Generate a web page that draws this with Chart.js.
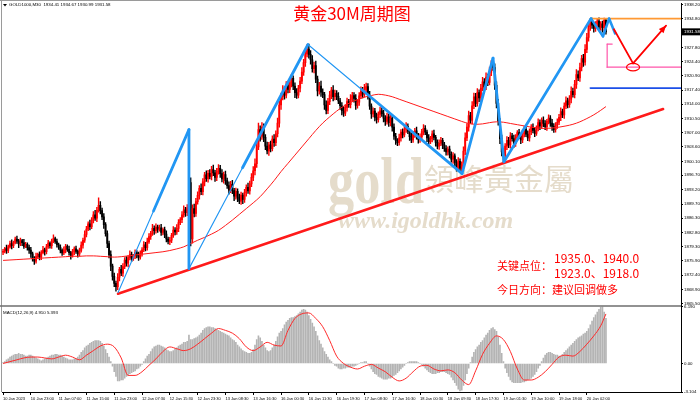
<!DOCTYPE html>
<html>
<head>
<meta charset="utf-8">
<script src="https://cdn.jsdelivr.net/npm/chart.js@4.4.0/dist/chart.umd.min.js"></script>
<style>
html,body{margin:0;padding:0;background:#fff;overflow:hidden}
#wrap{width:700px;height:403px;position:relative}
</style>
</head>
<body>
<div id="wrap"><canvas id="c" width="700" height="403"></canvas></div>
<script>
// GOLD 30M bars, 10 Jan - 20 Jan 2023 (one row = 16 bars = one x label step)
const firstOpen = 1878.0;
const closes = [
1878.2,1878.9,1878.4,1879.3,1880.1,1879.6,1880.4,1881.2,1880.7,1880.0,1880.8,1880.3,1879.4,1879.9,1879.1,1878.5,
1877.6,1876.4,1875.8,1876.9,1877.5,1876.8,1877.9,1878.6,1878.1,1879.3,1880.2,1879.6,1880.7,1881.3,1880.6,1879.8,
1879.2,1878.5,1877.8,1878.6,1879.4,1878.7,1877.9,1877.2,1878.1,1878.8,1878.2,1877.6,1878.4,1879.7,1880.9,1882.3,
1883.6,1884.9,1884.2,1885.8,1887.1,1886.3,1888.2,1889.4,1888.1,1886.6,1884.7,1882.5,1880.1,1877.4,1874.6,1872.1,
1870.4,1869.6,1871.9,1873.8,1872.9,1874.5,1876.1,1875.3,1876.7,1877.4,1876.5,1877.1,1877.9,1877.2,1876.8,1877.7,
1878.6,1879.8,1879.1,1880.5,1881.8,1882.6,1883.8,1883.2,1884.1,1883.6,1883.9,1882.8,1883.5,1882.4,1881.2,1880.6,
1880.9,1882.1,1883.4,1882.9,1883.8,1885.2,1885.9,1887.1,1888.3,1887.6,1888.8,1894.9,1881.2,1888.6,1887.4,1890.3,
1891.8,1893.5,1892.7,1895.1,1896.8,1895.9,1897.2,1896.4,1898.1,1897.3,1896.2,1897.6,1898.4,1897.1,1895.8,1896.9,
1895.4,1894.2,1893.1,1894.5,1893.0,1891.6,1892.8,1891.2,1890.4,1891.9,1890.8,1892.5,1893.8,1892.9,1894.6,1896.2,
1897.8,1899.5,1903.6,1907.8,1906.2,1908.4,1905.9,1903.8,1902.6,1904.1,1903.2,1905.5,1904.6,1906.8,1909.4,1913.8,
1915.8,1917.4,1916.2,1918.5,1917.6,1919.2,1920.3,1918.4,1916.8,1916.2,1917.9,1919.6,1921.8,1924.1,1926.2,1927.4,
1926.1,1924.8,1922.6,1923.4,1920.1,1917.2,1918.4,1916.9,1916.3,1913.8,1912.5,1914.6,1916.2,1917.4,1915.8,1916.6,
1915.9,1914.8,1913.6,1912.4,1911.8,1913.2,1914.6,1913.9,1915.2,1916.1,1915.4,1913.7,1914.5,1916.0,1917.2,1916.4,
1917.6,1918.3,1916.2,1913.5,1911.6,1912.3,1910.8,1910.2,1911.5,1912.4,1911.7,1910.6,1909.8,1910.9,1909.5,1910.6,
1908.4,1906.2,1905.1,1904.6,1905.8,1907.2,1906.5,1907.9,1908.6,1907.4,1906.1,1905.3,1906.7,1907.5,1906.2,1905.4,
1906.0,1907.3,1908.1,1907.2,1905.8,1904.9,1905.6,1906.8,1905.9,1904.7,1903.8,1904.5,1905.2,1904.1,1903.2,1902.4,
1903.1,1901.8,1900.6,1901.4,1899.8,1898.6,1900.1,1898.4,1899.2,1902.6,1905.8,1908.4,1911.2,1910.1,1913.6,1915.8,
1914.2,1916.8,1915.5,1917.9,1919.4,1918.2,1920.6,1919.3,1921.8,1923.6,1922.9,1918.6,1914.2,1909.8,1905.6,1902.4,
1901.6,1903.8,1905.2,1904.1,1906.3,1905.6,1904.4,1905.9,1907.1,1906.2,1905.3,1906.8,1907.9,1906.7,1905.8,1907.3,
1908.4,1907.6,1906.9,1908.2,1909.5,1908.7,1910.1,1909.3,1908.5,1909.8,1910.6,1909.4,1908.6,1907.8,1908.9,1909.6,
1910.8,1912.2,1911.4,1913.5,1914.8,1913.9,1915.2,1917.1,1916.3,1918.8,1921.2,1920.4,1922.9,1925.1,1924.2,1927.3,
1930.2,1932.9,1934.1,1933.2,1932.4,1933.6,1934.2,1932.8,1933.5,1932.6,1934.41,1931.58
];
// wick length above the body top / below the body bottom
const hiExt = [
0.5,0.3,0.8,0.4,0.6,0.9,0.3,0.5,0.7,0.4,0.6,0.3,0.8,0.5,0.4,0.6,
0.7,0.4,0.5,0.9,0.3,0.6,0.5,0.8,0.4,0.6,0.7,0.3,0.5,0.9,0.4,0.6,
0.4,0.6,0.3,0.7,0.5,0.4,0.8,0.3,0.6,0.5,0.7,0.4,0.6,0.8,0.5,0.9,
0.7,0.5,0.9,0.6,0.8,1.1,0.7,1.8,0.9,0.6,0.8,0.5,0.7,0.6,0.9,0.5,
0.8,0.6,0.9,0.5,1.0,0.7,0.6,0.8,0.5,0.9,0.6,0.4,0.7,0.5,0.8,0.6,
0.5,0.8,0.6,0.9,0.7,0.5,1.0,0.6,0.8,0.5,0.7,0.9,0.4,0.6,0.8,0.5,
0.7,0.5,0.8,0.6,0.9,0.7,0.5,0.8,1.0,0.6,0.8,2.6,1.2,0.9,1.1,0.8,
0.9,0.7,1.1,0.8,0.6,1.0,0.7,0.9,0.8,1.1,0.6,0.8,0.9,0.7,1.0,0.6,
0.8,0.6,0.9,0.7,1.0,0.5,0.8,0.6,0.9,0.7,0.5,0.8,0.6,1.0,0.7,0.9,
1.0,1.2,1.4,1.6,0.9,1.1,0.8,0.7,1.0,0.6,0.9,0.8,1.1,0.7,1.2,1.0,
0.9,1.1,0.8,1.0,0.7,1.2,0.9,0.6,0.8,1.0,0.7,0.9,1.1,0.8,1.0,1.1,
1.2,0.9,1.0,0.8,1.1,0.7,0.9,1.2,0.8,0.6,1.0,0.8,0.9,0.7,1.1,0.8,
0.7,0.9,0.6,0.8,1.0,0.7,0.9,0.6,1.1,0.8,0.7,0.9,0.6,0.8,1.0,0.9,
1.2,0.8,0.7,0.9,0.6,0.8,0.7,1.0,0.6,0.9,0.7,0.8,0.6,0.9,0.7,0.8,
0.6,0.8,0.7,0.5,0.9,0.6,0.8,0.7,0.9,0.6,0.5,0.8,0.7,0.6,0.9,0.7,
0.8,0.6,0.9,0.7,0.5,0.8,0.6,0.7,0.9,0.5,0.6,0.8,0.7,0.5,0.6,0.7,
0.5,0.7,0.6,0.8,0.5,0.7,0.9,0.6,0.8,1.0,1.2,0.9,1.1,0.8,1.0,0.9,
0.8,1.0,0.7,0.9,1.1,0.8,1.0,0.7,1.2,1.0,1.5,0.9,0.8,1.0,0.7,0.9,
0.8,0.6,0.9,0.7,0.8,0.6,0.9,0.7,0.5,0.8,0.6,0.9,0.7,0.6,0.8,0.7,
0.6,0.8,0.7,0.5,0.9,0.7,0.6,0.8,0.7,0.5,0.8,0.6,0.9,0.7,0.6,0.8,
0.7,0.9,0.6,0.8,1.0,0.7,0.9,1.1,0.8,1.0,1.2,0.9,1.1,0.8,1.0,1.2,
1.0,0.9,0.6,0.8,0.7,0.5,0.4,0.8,0.6,0.7,0.5,0.26
];
const loExt = [
0.6,0.4,0.7,0.5,0.3,0.8,0.5,0.4,0.6,0.9,0.4,0.7,0.5,0.3,0.6,0.8,
0.9,0.6,0.8,0.5,0.4,0.7,0.6,0.3,0.8,0.5,0.4,0.6,0.7,0.4,0.5,0.6,
0.5,0.7,0.6,0.4,0.8,0.5,0.6,0.9,0.4,0.7,0.5,0.8,0.6,0.4,0.7,0.5,
0.6,0.4,0.8,0.5,0.7,0.6,0.9,0.5,0.8,0.7,0.9,0.6,1.0,0.8,1.1,0.9,
0.8,1.1,0.7,0.9,0.6,0.8,0.5,0.7,0.9,0.6,0.8,0.5,0.7,0.6,0.8,0.5,
0.7,0.5,0.8,0.6,0.4,0.7,0.5,0.9,0.6,0.8,0.5,0.7,0.6,0.9,0.7,0.6,
0.8,0.6,0.5,0.7,0.6,0.8,0.5,0.7,0.6,0.9,0.7,0.8,1.7,1.0,0.8,0.7,
0.6,0.9,0.7,0.8,1.0,0.7,0.9,0.6,0.8,0.7,1.0,0.8,0.6,0.9,0.7,1.0,
0.9,0.7,1.0,0.6,0.8,1.1,0.7,0.9,0.6,0.8,1.0,0.7,0.9,0.6,0.8,0.7,
0.8,1.0,0.9,0.7,1.2,0.8,1.0,0.9,0.7,1.1,0.8,0.6,0.9,0.7,0.8,1.0,
1.1,0.8,1.0,0.7,0.9,0.8,1.0,0.9,1.2,0.8,0.7,0.9,0.6,0.8,0.9,0.7,
0.9,1.1,0.8,1.0,0.9,1.2,0.8,1.0,0.7,1.1,0.9,0.8,0.7,0.9,1.0,0.8,
0.8,0.7,0.9,1.0,0.8,0.6,0.9,0.7,0.8,0.6,0.9,1.0,0.7,0.8,0.6,0.9,
0.7,0.9,1.0,0.8,1.1,0.7,0.9,0.8,0.6,0.8,0.7,0.9,1.0,0.7,0.9,0.8,
1.0,0.8,0.9,0.7,0.6,0.8,0.7,0.5,0.8,0.6,0.9,0.7,0.6,0.8,0.7,0.9,
0.7,0.5,0.8,0.6,0.9,0.7,0.5,0.8,0.6,0.9,0.7,0.8,0.6,0.9,0.7,0.8,
0.8,0.9,0.7,1.0,0.8,0.9,0.7,0.6,1.2,0.8,0.9,0.7,1.0,0.8,0.9,0.7,
0.8,0.7,0.9,0.8,0.6,0.9,0.7,0.8,0.6,0.9,0.7,1.0,1.1,0.9,1.2,1.0,
1.6,0.8,0.9,0.7,0.8,0.6,0.9,0.7,0.8,0.6,0.9,0.7,0.8,0.6,0.7,0.8,
0.7,0.6,0.8,0.5,0.7,0.9,0.6,0.8,0.7,0.9,0.6,0.8,1.0,0.7,0.6,0.8,
0.6,0.8,0.7,0.9,0.6,0.8,0.7,0.9,0.6,0.8,1.0,0.7,0.9,0.8,1.0,0.7,
0.8,0.9,1.0,0.8,0.9,0.7,1.0,0.8,0.9,1.1,0.8,0.59
];
// red moving average, one reading every 4 bars (last one = last bar)
const maValues = [
1876.0,1876.1,1876.2,1876.3,1876.4,1876.5,1876.6,1876.7,1876.8,1876.9,
1877.0,1877.0,1877.1,1877.1,1877.0,1876.9,1876.8,1876.9,1877.1,1877.3,
1877.5,1877.7,1877.9,1878.1,1878.4,1878.8,1879.3,1880.1,1880.9,1881.6,
1882.4,1883.3,1884.5,1885.8,1887.2,1888.6,1890.0,1891.5,1893.4,1895.4,
1897.6,1899.6,1901.6,1903.6,1905.6,1907.6,1909.4,1910.9,1912.3,1913.5,
1914.4,1915.1,1915.7,1916.1,1916.4,1916.2,1915.8,1915.2,1914.6,1914.0,
1913.4,1912.8,1912.2,1911.6,1911.0,1910.4,1909.8,1909.3,1909.1,1909.2,
1909.5,1909.7,1909.6,1909.3,1909.0,1908.7,1908.4,1908.2,1908.1,1908.2,
1908.4,1908.7,1909.1,1909.7,1910.5,1911.4,1912.5,1913.4
];
// MACD(12,26,9): main histogram per bar
const macdMain = [
0.1,0.2,0.4,0.5,0.7,0.8,0.9,1.0,1.0,1.1,1.0,1.0,0.9,0.8,0.8,0.9,
0.9,0.8,0.7,0.6,0.5,0.4,0.3,0.4,0.5,0.6,0.7,0.8,0.9,0.9,1.0,1.0,
0.9,0.9,0.8,0.7,0.6,0.5,0.4,0.4,0.4,0.5,0.5,0.7,0.9,1.2,1.4,1.7,
1.9,2.0,2.2,2.3,2.4,2.5,2.5,2.5,2.4,2.2,1.9,1.5,1.1,0.7,0.2,-0.3,
-0.9,-1.4,-1.9,-1.9,-1.8,-1.8,-1.6,-1.4,-1.3,-1.1,-1.0,-0.9,-0.8,-0.6,-0.5,-0.3,
-0.1,0.2,0.5,0.8,1.0,1.3,1.6,1.8,1.9,2.0,2.0,1.9,1.8,1.7,1.5,1.4,
1.3,1.3,1.4,1.6,1.7,1.9,2.0,2.1,2.3,2.3,2.4,3.1,2.6,2.6,2.7,2.8,
2.9,3.1,3.3,3.6,3.8,3.9,4.0,4.0,3.9,3.9,3.8,3.7,3.6,3.5,3.4,3.3,
3.2,3.1,3.0,2.8,2.6,2.5,2.3,2.0,1.8,1.6,1.4,1.3,1.2,1.1,1.1,1.2,
1.5,2.0,2.6,3.0,2.8,2.4,2.0,1.7,1.4,1.3,1.4,1.7,2.0,2.4,2.9,3.3,
3.5,3.8,4.2,4.5,4.7,4.9,5.0,5.0,5.1,5.2,5.4,5.6,5.8,5.9,5.8,5.6,
5.2,4.8,4.4,4.0,3.5,3.0,2.5,2.1,1.7,1.3,1.0,0.7,0.4,0.2,0.0,-0.2,
-0.3,-0.5,-0.6,-0.6,-0.5,-0.5,-0.4,-0.4,-0.4,-0.3,-0.3,-0.2,-0.1,0.0,0.1,0.1,
0.2,0.2,0.0,-0.3,-0.6,-0.9,-1.1,-1.2,-1.4,-1.5,-1.6,-1.7,-1.7,-1.7,-1.6,-1.6,
-1.5,-1.3,-1.2,-1.0,-0.8,-0.6,-0.4,-0.2,0.0,0.1,0.2,0.2,0.2,0.2,0.2,0.1,
0.0,-0.1,-0.3,-0.5,-0.7,-0.9,-1.0,-1.1,-1.1,-1.1,-1.0,-1.0,-0.9,-0.9,-0.9,-1.0,
-1.1,-1.2,-1.5,-1.8,-2.1,-2.4,-2.8,-3.0,-2.9,-2.4,-1.8,-1.1,-0.5,0.1,0.7,1.2,
1.5,1.8,2.0,2.3,2.5,2.8,3.1,3.3,3.6,3.8,3.9,3.7,3.5,2.9,2.0,1.1,
0.2,-0.5,-1.0,-1.4,-1.8,-2.0,-2.1,-2.1,-2.1,-2.1,-2.1,-2.0,-2.0,-1.9,-1.8,-1.7,
-1.6,-1.4,-1.2,-0.9,-0.5,-0.2,0.2,0.6,0.9,1.1,1.2,1.2,1.1,1.0,0.9,0.9,
0.8,0.8,1.0,1.2,1.4,1.6,1.8,2.0,2.2,2.4,2.6,2.8,2.9,3.0,3.2,3.3,
3.5,3.8,4.2,4.6,5.0,5.3,5.6,5.9,6.1,6.19,5.6,4.91
];
// MACD signal line, one reading every 4 bars (last one = last bar)
const macdSignal = [
0.0,0.2,0.4,0.6,0.7,0.7,0.6,0.5,0.7,0.9,
0.7,0.4,0.9,1.4,1.9,2.1,1.8,0.6,-1.3,-1.3,
-0.9,-0.2,0.5,1.3,1.8,1.6,1.4,1.6,2.1,2.7,
3.3,3.8,3.6,3.3,2.7,1.8,1.4,1.8,2.3,2.0,
1.9,3.6,4.9,5.4,5.5,4.9,4.0,2.5,0.8,0.0,
-0.4,-0.6,-0.3,-0.1,-0.5,-0.9,-1.5,-1.9,-1.6,-0.9,
-0.3,-0.2,-0.6,-0.8,-0.7,-1.0,-1.8,-2.3,-0.8,1.0,
2.2,3.0,2.6,1.3,-0.6,-1.8,-1.8,-1.5,-0.9,-0.1,
0.7,0.9,0.8,1.3,2.1,3.0,4.1,5.39
];
const timeLabels = ["10 Jan 2023","10 Jan 23:00","11 Jan 07:00","11 Jan 15:00","11 Jan 23:00","12 Jan 07:30",
  "12 Jan 15:30","12 Jan 23:30","13 Jan 08:30","13 Jan 16:30","16 Jan 00:30","16 Jan 11:30","16 Jan 19:30",
  "17 Jan 08:30","17 Jan 16:30","18 Jan 00:30","18 Jan 09:30","18 Jan 17:30","19 Jan 01:30","19 Jan 10:00",
  "19 Jan 18:00","20 Jan 02:00"];
const priceTicks = [1938.20,1934.80,1927.80,1924.40,1920.90,1917.40,1914.00,1910.50,1907.00,1903.60,1900.10,
  1896.70,1893.20,1889.70,1886.30,1882.80,1879.30,1875.90,1872.40,1868.90,1865.50];
const macdTicks = [6.190, 0, -3.104];
const lastPrice = 1931.58;

// drawn objects, in [bar index, price]
const supportLine = [[66.2,1867.9],[379.9,1912.8]];
const waveLine = [[66.2,1868.2],[107.0,1907.8],[107.0,1874.0],[175.5,1928.5],[264.2,1897.1],[282.0,1925.2],[288.3,1900.0],[338.4,1934.8]];
const topWave = [[338.4,1934.8],[345.3,1930.5],[348.8,1934.8],[352.3,1931.2]];
const arrowPath = [[351.6,1932.2],[362.6,1923.9],[381.6,1933.1]];
const levelOrange = 1934.8, levelPink = 1923.0, levelBlue = 1917.9;

const opens = closes.map((c, i) => i === 0 ? firstOpen : closes[i - 1]);
const candleColors = closes.map((c, i) => c >= opens[i] ? '#ff0000' : '#000000');
const wickData = closes.map((c, i) => ({x: i, y: [Math.min(opens[i], c) - loExt[i], Math.max(opens[i], c) + hiExt[i]]}));
const bodyData = closes.map((c, i) => {
  let a = opens[i], b = c;
  if (Math.abs(a - b) < 0.1) { a -= 0.05; b += 0.05; }
  return {x: i, y: [a, b]};
});
const last = closes.length - 1;
const maData = maValues.map((v, i) => ({x: Math.min(i * 4, last), y: v}));
const histData = macdMain.map((v, i) => ({x: i, y: v}));
const sigData = macdSignal.map((v, i) => ({x: Math.min(i * 4, last), y: v}));

const smallFont = '"Liberation Sans Narrow","Liberation Sans",Arial,sans-serif';
const cjk = '"Noto Sans CJK SC",sans-serif';

function line(ctx, a, b, w, color) {
  ctx.beginPath(); ctx.moveTo(a[0], a[1]); ctx.lineTo(b[0], b[1]);
  ctx.lineWidth = w; ctx.strokeStyle = color; ctx.stroke();
}

const drawings = {
  id: 'drawings',
  beforeDatasetsDraw(chart) {
    const ctx = chart.ctx;
    ctx.save();
    ctx.fillStyle = 'rgba(192,172,132,0.42)';
    ctx.textBaseline = 'alphabetic';
    ctx.font = 'bold 66px "Liberation Serif",serif';
    ctx.fillText('gold', 328, 203, 96);
    ctx.font = '30px "Noto Sans CJK TC",sans-serif';
    ctx.fillText('領峰黃金屬', 424, 190);
    ctx.font = 'bold italic 24px "Liberation Serif",serif';
    ctx.fillText('www.igoldhk.com', 338, 228, 222);
    ctx.restore();
  },
  afterDatasetsDraw(chart) {
    const {ctx, chartArea} = chart;
    const xs = chart.scales.x, ys = chart.scales.y, y2 = chart.scales.y2;
    const P = p => [xs.getPixelForValue(p[0]), ys.getPixelForValue(p[1])];
    ctx.save();
    ctx.beginPath();
    ctx.rect(chartArea.left, 0, chartArea.right - chartArea.left, y2.top);
    ctx.clip();
    ctx.lineCap = 'round';

    // horizontal levels
    const xr = chartArea.right;
    line(ctx, [xs.getPixelForValue(338), ys.getPixelForValue(levelOrange)], [xr, ys.getPixelForValue(levelOrange)], 1.6, '#ff9933');
    line(ctx, [xs.getPixelForValue(338), ys.getPixelForValue(levelBlue)], [xr, ys.getPixelForValue(levelBlue)], 1.6, '#1c4fe8');
    const pk = P([347.7, levelPink]), pkTop = P([347.7, 1928.6]);
    line(ctx, pk, [xr, pk[1]], 1.3, '#ff55aa');
    line(ctx, pkTop, pk, 1.2, '#ff55aa');
    line(ctx, pkTop, P([350.6, 1928.6]), 1.2, '#ff55aa');

    // support trend line
    line(ctx, P(supportLine[0]), P(supportLine[1]), 2.6, '#ff1a1a');

    // wave lines: thin start, thick end
    const blue = '#2196f3';
    const split = [0.5, 0, 0.45, 0.35, 0, 0, 0];
    for (let i = 0; i < waveLine.length - 1; i++) {
      const a = P(waveLine[i]), b = P(waveLine[i + 1]);
      const f = split[i];
      const m = [a[0] + (b[0] - a[0]) * f, a[1] + (b[1] - a[1]) * f];
      if (f > 0) line(ctx, a, m, 1.1, blue);
      line(ctx, m, b, 2.8, blue);
    }
    for (let i = 0; i < topWave.length - 1; i++) line(ctx, P(topWave[i]), P(topWave[i + 1]), 2.6, blue);

    // red projection arrow
    const r0 = P(arrowPath[0]), r1 = P(arrowPath[1]), r2 = P(arrowPath[2]);
    line(ctx, r0, r1, 1.8, '#ff0000');
    line(ctx, r1, r2, 1.8, '#ff0000');
    const ang = Math.atan2(r2[1] - r1[1], r2[0] - r1[0]);
    ctx.beginPath();
    ctx.moveTo(r2[0], r2[1]);
    ctx.lineTo(r2[0] - 8 * Math.cos(ang - 0.4), r2[1] - 8 * Math.sin(ang - 0.4));
    ctx.lineTo(r2[0] - 8 * Math.cos(ang + 0.4), r2[1] - 8 * Math.sin(ang + 0.4));
    ctx.closePath();
    ctx.fillStyle = '#ff0000'; ctx.fill();
    const e = P([362.6, levelPink]);
    ctx.beginPath(); ctx.ellipse(e[0], e[1], 6.5, 3.8, 0, 0, Math.PI * 2);
    ctx.lineWidth = 1.2; ctx.strokeStyle = '#ff0000'; ctx.stroke();
    ctx.restore();
  },
  afterDraw(chart) {
    const {ctx, chartArea} = chart;
    const ys = chart.scales.y, y2 = chart.scales.y2;
    ctx.save();
    // frame
    line(ctx, [0, 0.5], [700, 0.5], 1, '#9a9a9a');
    line(ctx, [1.5, 0], [1.5, chartArea.bottom], 1, '#9a9a9a');
    line(ctx, [0, y2.top - 0.5], [chartArea.right, y2.top - 0.5], 1.5, '#6e6e6e');

    // symbol line and indicator name
    ctx.fillStyle = '#000';
    ctx.beginPath(); ctx.moveTo(3, 4); ctx.lineTo(7, 4); ctx.lineTo(5, 6.5); ctx.closePath(); ctx.fill();
    ctx.font = '4.4px ' + smallFont;
    ctx.textBaseline = 'middle';
    ctx.fillText('GOLD1000,M30  1934.41 1934.67 1930.99 1931.58', 9, 5);
    ctx.fillText('MACD(12,26,9) 4.910 5.393', 3, y2.top + 6);

    // last price tag
    const ly = ys.getPixelForValue(lastPrice);
    ctx.fillStyle = '#000';
    ctx.fillRect(chartArea.right + 1, ly - 3.5, 18, 7);
    ctx.fillStyle = '#fff';
    ctx.fillText(lastPrice.toFixed(2), chartArea.right + 3, ly);

    // title
    ctx.fillStyle = '#ff0000';
    ctx.textAlign = 'center';
    ctx.font = '17px ' + cjk;
    ctx.fillText('黄金30M周期图', 352, 14);

    // key levels
    ctx.textAlign = 'left';
    ctx.font = '11px ' + cjk;
    ctx.fillText('关键点位：', 497, 266);
    ctx.fillText('今日方向：建议回调做多', 497, 290);
    ctx.font = '12px ' + cjk;
    ctx.fillText('1935.0、1940.0', 554, 258);
    ctx.fillText('1923.0、1918.0', 554, 273);
    ctx.restore();
  }
};

new Chart(document.getElementById('c'), {
  type: 'bar',
  data: {
    datasets: [
      {type: 'line', data: maData, yAxisID: 'y', borderColor: '#ff1a1a', borderWidth: 1, pointRadius: 0, cubicInterpolationMode: 'monotone', order: 0},
      {data: bodyData, yAxisID: 'y', backgroundColor: candleColors, barThickness: 1.25, grouped: false, order: 1},
      {data: wickData, yAxisID: 'y', backgroundColor: candleColors, barThickness: 0.75, grouped: false, order: 2},
      {data: histData, yAxisID: 'y2', backgroundColor: '#b4b4b4', barThickness: 1, grouped: false, order: 3},
      {type: 'line', data: sigData, yAxisID: 'y2', borderColor: '#ff2a2a', borderWidth: 1, pointRadius: 0, cubicInterpolationMode: 'monotone', order: 0}
    ]
  },
  options: {
    responsive: false,
    animation: false,
    events: [],
    layout: {padding: {left: 2, top: 1, right: 0, bottom: 0}},
    plugins: {legend: {display: false}, tooltip: {enabled: false}},
    scales: {
      x: {
        type: 'linear', position: 'bottom', min: -0.6, max: 390.2, offset: false,
        afterBuildTicks: s => { s.ticks = timeLabels.map((t, i) => ({value: i * 16})); },
        afterFit: s => { s.height = 11; s.paddingLeft = 0; s.paddingRight = 0; },
        ticks: {callback: (v, i) => timeLabels[i], font: {size: 4.0, family: smallFont}, color: '#000', align: 'start', maxRotation: 0, autoSkip: false, padding: 1},
        grid: {drawOnChartArea: false, drawTicks: true, tickLength: 3, color: '#000', offset: false},
        border: {color: '#000'}
      },
      y: {
        position: 'right', stack: 'panes', stackWeight: 305, min: 1864.77, max: 1938.44,
        afterBuildTicks: s => { s.ticks = priceTicks.map(v => ({value: v})); },
        afterFit: s => { s.width = 19; },
        ticks: {callback: v => v.toFixed(2), font: {size: 4.4, family: smallFont}, color: '#000', padding: 1, autoSkip: false},
        grid: {drawOnChartArea: false, tickLength: 2, color: '#000'},
        border: {color: '#000'}
      },
      y2: {
        position: 'right', stack: 'panes', stackWeight: 86, min: -3.104, max: 6.19,
        afterBuildTicks: s => { s.ticks = macdTicks.map(v => ({value: v})); },
        afterFit: s => { s.width = 19; },
        ticks: {callback: v => v === 0 ? '0.00' : v.toFixed(3), font: {size: 4.4, family: smallFont}, color: '#000', padding: 1, autoSkip: false},
        grid: {drawOnChartArea: false, tickLength: 2, color: '#000'},
        border: {color: '#000'}
      }
    }
  },
  plugins: [drawings]
});
</script>
</body>
</html>
